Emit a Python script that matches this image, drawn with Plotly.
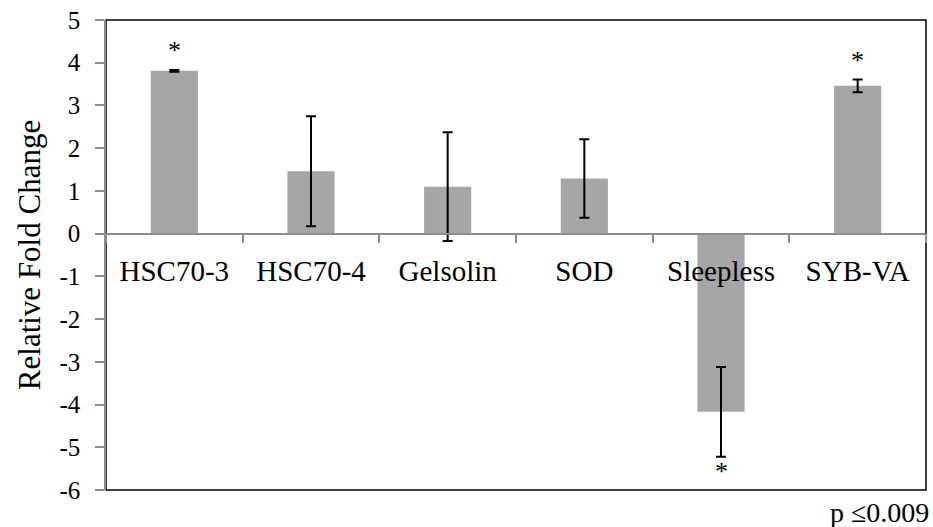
import plotly.graph_objects as go

genes = ["HSC70-3", "HSC70-4", "Gelsolin", "SOD", "Sleepless", "SYB-VA"]
fold_change = [3.81, 1.46, 1.10, 1.29, -4.17, 3.46]
error = [0.02, 1.29, 1.27, 0.92, 1.05, 0.15]
significant = [True, False, False, False, True, True]
y_ticks = [-6, -5, -4, -3, -2, -1, 0, 1, 2, 3, 4, 5]
y_tick_text = ["-6", "-5", "-4", "-3", "-2", "-1", "0", "1", "2", "3", "4", "5"]
p_note = "p ≤0.009"

FONT = "Times New Roman"
BAR = "#a6a6a6"
AXIS_GRAY = "#8c8c8c"
ymin, ymax = y_ticks[0], y_ticks[-1]

fig = go.Figure()
fig.add_trace(go.Bar(
    x=genes, y=fold_change, width=0.345,
    marker=dict(color=BAR, line=dict(width=0)),
    error_y=dict(type="data", array=error, visible=True,
                 color="black", thickness=2, width=5),
    showlegend=False,
))

for g, v, e, s in zip(genes, fold_change, error, significant):
    if not s:
        continue
    if v >= 0:
        fig.add_annotation(x=g, y=v + e, yshift=19, text="*", showarrow=False,
                           font=dict(family=FONT, size=26, color="black"),
                           yanchor="middle")
    else:
        fig.add_annotation(x=g, y=v - e, yshift=-15, text="*", showarrow=False,
                           font=dict(family=FONT, size=26, color="black"),
                           yanchor="middle")

fig.add_shape(type="rect", xref="x domain", yref="y domain", x0=0, x1=1, y0=0, y1=1,
              line=dict(color="black", width=1.5), layer="below")

fig.add_annotation(xref="paper", yref="paper", x=1.0, y=0, xanchor="right", yanchor="top",
                   yshift=-5, xshift=5, text=p_note, showarrow=False,
                   font=dict(family=FONT, size=28, color="black"))

fig.update_layout(
    width=933, height=527,
    margin=dict(l=106, r=7, t=20, b=37),
    paper_bgcolor="white", plot_bgcolor="white",
    font=dict(family=FONT, color="black"),
    xaxis=dict(
        type="category", categoryorder="array", categoryarray=genes,
        range=[-0.5, len(genes) - 0.5],
        tickson="boundaries", ticks="outside", ticklen=9, tickwidth=1.5,
        tickcolor=AXIS_GRAY, tickangle=0,
        showline=True, linecolor=AXIS_GRAY, linewidth=1.5,
        anchor="free", position=(0 - ymin) / (ymax - ymin),
        showgrid=False, zeroline=False,
        tickfont=dict(family=FONT, size=29, color="black"),
        ticklabelstandoff=12,
    ),
    yaxis=dict(
        range=[ymin, ymax], tickvals=y_ticks, ticktext=y_tick_text,
        ticks="outside", ticklen=9,
        tickwidth=1.5, tickcolor=AXIS_GRAY,
        showline=True, linecolor=AXIS_GRAY, linewidth=1.5,
        showgrid=False, zeroline=False,
        tickfont=dict(family=FONT, size=25, color="black"),
        ticklabelstandoff=10,
        title=dict(text="Relative Fold Change", font=dict(family=FONT, size=31, color="black"),
                   standoff=10),
    ),
)

fig.write_html("out.html")
